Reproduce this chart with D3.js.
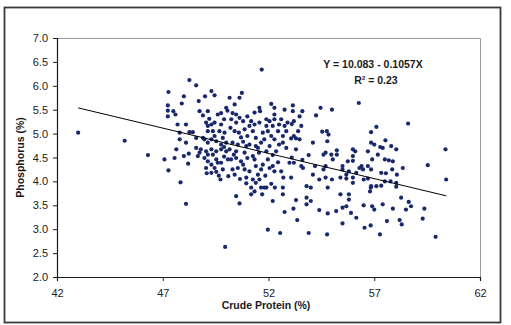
<!DOCTYPE html>
<html>
<head>
<meta charset="utf-8">
<script src="https://cdn.jsdelivr.net/npm/d3@7"></script>
<style>
  html, body { margin: 0; padding: 0; background: #fff; }
  svg { display: block; font-family: "Liberation Sans", Arial, sans-serif; }
</style>
</head>
<body>
<svg id="chart" width="511" height="325"></svg>
<script>
// Axis ticks
const xTicks = [42, 47, 52, 57, 62];
const yTicks = [2.0, 2.5, 3.0, 3.5, 4.0, 4.5, 5.0, 5.5, 6.0, 6.5, 7.0];

// Linear fit: Phosphorus = intercept + slope * Crude Protein
const intercept = 10.083;
const slope = -0.1057;
const rSquared = 0.23;

// Samples: [crude protein (%), phosphorus (%)]
const samples = [
  [43.0,5.02],[45.2,4.85],[46.3,4.55],
  // 47-50, upper
  [48.26,6.12],[48.58,6.01],[47.27,5.87],[48.0,5.78],[47.9,5.63],[48.7,5.68],[49.0,5.78],[49.3,5.89],[49.45,5.8],
  [47.24,5.59],[47.24,5.48],[47.5,5.47],[47.6,5.4],[47.24,5.36],[48.74,5.47],[49.13,5.47],[48.9,5.38],[49.76,5.43],
  [49.6,5.4],[50.0,5.54],[47.7,5.19],[48.1,5.19],[49.2,5.31],[49.05,5.23],[49.13,5.16],[49.3,5.19],[49.45,5.23],
  [49.76,5.19],[48.26,5.03],[48.42,5.03],[48.58,4.91],[48.9,4.91],[49.13,5.05],[49.37,5.05],[49.68,5.05],[49.92,5.02],
  [47.8,4.88],[48.1,4.81],[47.64,4.67],[48.58,4.7],[48.97,4.88],[49.13,4.81],[49.3,4.88],[49.53,4.84],[49.84,4.91],
  [49.76,4.77],[50.0,4.81],[48.8,4.67],[49.05,4.63],[49.3,4.67],[49.53,4.63],[49.76,4.67],[50.0,4.63],[49.37,4.56],
  [49.13,4.56],[47.8,5.02],[48.23,4.58],[48.0,4.53],[48.74,4.6],[49.6,4.39],[49.9,4.72],[49.45,4.95],[49.9,5.3],
  // 47-50, lower
  [47.08,4.46],[47.27,4.23],[47.84,3.98],[48.1,3.53],[48.2,4.37],[47.56,4.49],[49.73,4.04],[49.95,2.63],[49.08,4.17],
  [50.1,4.11],[48.97,4.49],[49.13,4.42],[49.05,4.28],[49.3,4.35],[49.45,4.28],[49.53,4.46],[49.76,4.39],[49.84,4.25],
  [50.08,4.46],[49.53,4.2],[49.3,4.18],[48.66,4.53],[49.9,4.52],[49.65,4.12],
  // 50-54, upper
  [51.68,6.34],[50.74,5.85],[50.63,5.75],[50.4,5.61],[50.16,5.75],[51.57,5.54],[51.6,5.47],[52.13,5.62],[52.28,5.54],
  [52.76,5.5],[53.15,5.59],[53.15,5.47],[53.6,5.47],[53.47,5.36],[52.28,5.4],[52.6,5.3],[52.28,5.3],[50.3,5.43],
  [50.47,5.4],[50.63,5.33],[50.24,5.3],[50.47,5.23],[50.8,5.26],[51.0,5.36],[51.18,5.26],[51.34,5.19],[51.57,5.23],
  [51.9,5.3],[51.9,5.16],[52.05,5.26],[52.2,5.16],[52.5,5.19],[52.76,5.16],[52.9,5.23],[52.84,5.05],[53.2,5.26],
  [53.4,5.05],[53.55,5.16],[50.2,5.12],[50.4,5.05],[50.6,5.02],[50.87,5.09],[51.0,4.95],[51.26,5.05],[51.4,4.91],
  [51.73,5.02],[51.8,4.88],[52.13,4.95],[52.28,4.88],[52.68,4.95],[53.07,4.9],[53.3,4.9],[53.47,4.88],[50.3,4.81],
  [50.55,4.77],[50.8,4.83],[51.1,4.77],[51.4,4.74],[51.65,4.81],[52.05,4.74],[52.5,4.77],[52.84,4.7],[53.3,4.67],
  [50.16,4.67],[50.47,4.63],[51.9,4.63],[52.36,4.63],[53.1,5.2],[51.5,4.7],[51.1,5.16],[53.2,4.95],[52.68,4.81],
  [51.97,5.05],[50.06,5.48],[51.34,5.44],[50.87,4.6],[51.26,4.53],[50.36,4.56],[50.95,4.74],[51.55,4.6],[52.2,4.55],
  [50.7,4.92],[52.45,5.05],
  // 50-54, lower
  [50.47,3.69],[50.63,3.54],[51.97,2.99],[52.55,2.92],[53.9,2.92],[52.2,3.59],[52.76,3.36],[53.3,3.61],[53.18,3.43],
  [53.36,3.19],[53.8,3.66],[53.8,3.52],[52.68,3.73],[52.68,3.87],[53.07,4.08],[52.7,4.08],[52.3,3.87],[52.13,3.95],
  [51.7,3.73],[51.65,3.87],[51.18,3.73],[51.9,3.87],[53.63,4.28],[53.8,3.9],
  [50.23,4.46],[50.47,4.49],[50.7,4.42],[50.8,4.35],[51.0,4.49],[51.34,4.46],[51.4,4.32],[50.3,4.25],[50.55,4.28],
  [50.87,4.25],[51.1,4.21],[50.95,4.08],[51.26,4.04],[51.5,4.14],[51.57,4.04],[51.65,4.25],[51.73,4.35],[51.97,4.46],
  [52.05,4.28],[52.2,4.32],[52.28,4.21],[52.6,4.21],[52.99,4.39],[53.2,4.39],[53.55,4.32],[51.18,3.87],[51.34,3.79],
  [51.8,3.87],[50.4,4.14],[50.95,3.96],[51.4,3.97],[53.1,4.5],[53.6,4.45],[53.9,4.55],[50.65,4.05],[51.85,4.12],
  [52.45,4.4],
  // 54-61, upper
  [54.46,5.54],[55.0,5.5],[54.25,5.38],[54.54,5.04],[54.76,5.05],[54.84,4.98],[54.1,4.81],[54.78,4.84],[56.27,5.64],
  [58.6,5.21],[57.1,5.14],[56.85,5.03],[54.6,4.56],[54.7,4.6],[55.23,4.65],[55.23,4.56],[55.99,4.53],[56.1,4.63],
  [56.85,4.81],[57.0,4.77],[57.4,4.7],[57.8,4.74],[58.04,4.67],[56.7,4.63],[57.17,4.56],[60.37,4.67],[57.53,4.86],
  [55.99,4.67],[57.28,4.72],
  // 54-61, lower
  [54.0,3.87],[54.0,3.59],[54.4,3.4],[54.8,3.33],[54.77,2.89],[55.2,3.38],[55.5,3.12],[55.5,3.45],[55.68,3.48],
  [55.8,3.62],[55.9,3.34],[56.15,3.24],[56.5,3.5],[56.54,3.03],[56.83,3.08],[56.9,3.48],[57.0,3.41],[57.27,2.89],
  [57.4,3.52],[56.8,3.79],[56.84,3.87],[55.8,3.73],[55.4,3.73],[54.8,3.87],[54.4,4.04],[54.1,4.14],[54.7,4.08],
  [55.0,4.04],[55.4,4.08],[55.68,4.06],[55.99,3.97],[55.99,4.08],[56.5,4.04],[56.7,4.06],[56.85,3.9],[57.1,3.9],
  [57.33,3.91],[57.5,4.0],[57.33,4.18],[57.55,4.17],[57.5,4.46],[56.9,4.46],[56.85,4.25],[56.7,4.32],[56.47,4.25],
  [56.3,4.28],[56.15,4.18],[55.99,4.43],[55.5,4.25],[55.5,4.32],[55.8,4.21],[55.68,4.14],[54.7,4.32],[54.6,4.25],
  [54.2,4.32],[55.04,4.46],[54.97,4.56],[56.4,4.32],[55.75,4.42],[57.69,4.44],
  [57.88,4.42],[57.85,4.25],[58.35,4.28],[59.53,4.34],[60.4,4.04],[58.07,4.14],[57.77,4.0],[58.04,3.97],[58.04,3.89],
  [58.27,3.66],[58.63,3.57],[58.74,3.48],[59.37,3.43],[59.29,3.22],[58.5,3.41],[57.88,3.43],[58.2,3.19],[58.3,3.1],
  [59.9,2.84],[57.6,3.17]
];

const svg = d3.select("#chart");
const ink = "#1a1a1a";
const dotColor = "#19286b";

// Outer frame
svg.append("rect")
  .attr("x", 4.5).attr("y", 7.5)
  .attr("width", 496).attr("height", 315)
  .attr("fill", "#fff")
  .attr("stroke", "#3a3a3a").attr("stroke-width", 1.8);

// Plot area
const x = d3.scaleLinear().domain([42, 62]).range([57, 480]);
const y = d3.scaleLinear().domain([2, 7]).range([277, 38]);

// Top and right edges of the plot area
svg.append("path")
  .attr("d", `M${x(42) + 0.5},${y(7) + 0.5}H${x(62) + 0.5}V${y(2) + 0.5}`)
  .attr("fill", "none")
  .attr("stroke", "#9a9a9a")
  .attr("stroke-width", 1);

// Axes
const xAxis = svg.append("g")
  .attr("transform", `translate(0,${y(2)})`)
  .call(d3.axisBottom(x).tickValues(xTicks).tickSize(4).tickPadding(8).tickFormat(d3.format("d")));
const yAxis = svg.append("g")
  .attr("transform", `translate(${x(42)},0)`)
  .call(d3.axisLeft(y).tickValues(yTicks).tickSize(4).tickPadding(5).tickFormat(d3.format(".1f")));

[xAxis, yAxis].forEach(g => {
  g.selectAll(".domain").attr("stroke", ink).attr("stroke-width", 1.2);
  g.selectAll(".tick line").attr("stroke", ink);
  g.selectAll(".tick text")
    .attr("fill", "#222")
    .style("font-size", "11px")
    .style("font-family", "'Liberation Sans', Arial, sans-serif");
});

// Points
svg.append("g")
  .selectAll("circle")
  .data(samples)
  .join("circle")
  .attr("cx", d => x(d[0]))
  .attr("cy", d => y(d[1]))
  .attr("r", 2.1)
  .attr("fill", dotColor);

// Regression line across the observed protein range
const [xMin, xMax] = d3.extent(samples, d => d[0]);
const fit = v => intercept + slope * v;
svg.append("line")
  .attr("x1", x(xMin)).attr("y1", y(fit(xMin)))
  .attr("x2", x(xMax)).attr("y2", y(fit(xMax)))
  .attr("stroke", "#000")
  .attr("stroke-width", 1);

// Equation annotation
const eq = svg.append("g")
  .attr("font-weight", "bold")
  .attr("font-size", "10.5px")
  .attr("fill", ink)
  .attr("text-anchor", "middle");
eq.append("text")
  .attr("x", 373).attr("y", 68)
  .text(`Y = ${intercept} - ${Math.abs(slope)}X`);
const r2 = eq.append("text").attr("x", 376).attr("y", 84);
r2.append("tspan").text("R");
r2.append("tspan").attr("dy", -4).attr("font-size", "6px").text("2");
r2.append("tspan").attr("dy", 4).text(` = ${rSquared}`);

// Axis titles
svg.append("text")
  .attr("x", 266).attr("y", 309)
  .attr("text-anchor", "middle")
  .attr("font-weight", "bold")
  .attr("font-size", "10.5px")
  .attr("fill", ink)
  .text("Crude Protein (%)");

svg.append("text")
  .attr("transform", `translate(24,${(y(2) + y(7)) / 2}) rotate(-90)`)
  .attr("text-anchor", "middle")
  .attr("font-weight", "bold")
  .attr("font-size", "10.5px")
  .attr("fill", ink)
  .text("Phosphorus (%)");
</script>
</body>
</html>
